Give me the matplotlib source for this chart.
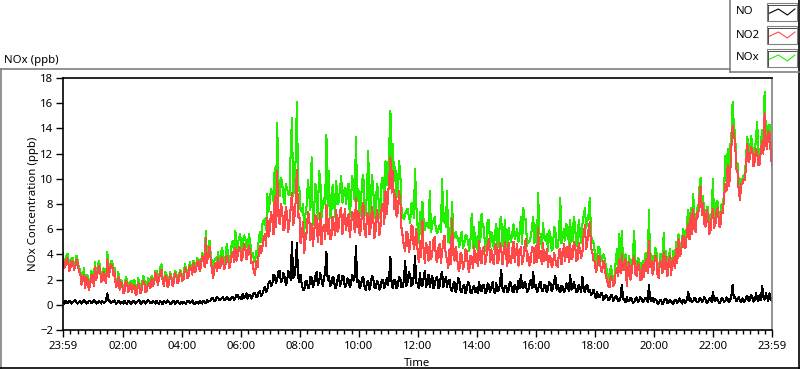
import matplotlib
matplotlib.use("Agg")
import matplotlib.pyplot as plt
from matplotlib.lines import Line2D
from matplotlib.patches import Rectangle
import numpy as np

plt.rcParams['font.family'] = ['Noto Sans', 'DejaVu Sans']

# one reading every 2.5 min, minutes after midnight (23:59 day before -> 23:59)
minutes = np.arange(-1, 1440, 2.5)

# NO2 (ppb), one row per hour
no2 = [
    3.8, 2.9, 3.1, 3.7, 3.6, 2.7, 2.9, 3.5, 3.4, 2.8, 3.0, 3.6, 3.3, 2.6, 2.5, 1.6, 1.9, 2.4, 1.3, 2.2, 2.0, 1.2, 1.5, 2.4,
    2.3, 1.5, 3.0, 2.0, 2.5, 3.1, 2.9, 1.8, 1.9, 2.6, 2.1, 1.7, 3.6, 2.2, 2.7, 3.2, 3.1, 2.3, 2.6, 1.4, 1.6, 2.2, 1.2, 1.8,
    1.6, 0.9, 1.1, 1.9, 1.8, 1.0, 1.3, 1.7, 1.0, 1.5, 1.6, 0.8, 0.9, 1.7, 1.4, 0.9, 1.2, 1.9, 1.8, 1.0, 1.1, 1.6, 1.7, 1.3,
    2.1, 1.5, 1.7, 2.5, 2.4, 1.6, 2.0, 2.6, 2.8, 1.9, 1.5, 2.3, 2.2, 1.4, 1.6, 2.4, 2.1, 1.5, 1.8, 2.5, 2.3, 1.7, 1.9, 2.6,
    2.4, 1.9, 2.0, 2.9, 2.8, 2.1, 2.3, 3.1, 2.9, 2.4, 3.3, 2.6, 2.7, 3.4, 3.5, 2.7, 3.0, 3.9, 3.7, 3.0, 5.3, 3.3, 4.0, 4.6,
    3.6, 2.8, 2.1, 3.0, 3.3, 2.7, 3.7, 2.9, 3.1, 3.8, 3.5, 2.8, 3.2, 3.9, 3.7, 2.9, 3.3, 4.0, 4.2, 3.4, 4.5, 3.5, 4.0, 4.6,
    4.4, 3.5, 3.8, 4.8, 4.6, 3.6, 4.0, 4.7, 4.3, 3.3, 3.4, 2.6, 2.4, 3.5, 3.0, 4.0, 4.7, 4.1, 4.6, 5.3, 5.6, 4.7, 6.9, 5.4,
    6.0, 7.4, 6.8, 5.6, 8.6, 6.2, 10.6, 7.1, 6.4, 8.0, 7.6, 5.9, 6.1, 7.8, 7.3, 5.8, 6.6, 7.7, 8.9, 6.3, 6.9, 8.2, 10.7, 7.0,
    7.2, 4.9, 5.5, 6.6, 4.1, 5.2, 5.8, 7.4, 7.0, 5.1, 6.4, 4.7, 5.6, 7.1, 6.8, 5.0, 5.9, 7.3, 4.8, 6.1, 6.3, 5.2, 7.9, 5.6,
    6.8, 5.2, 5.3, 7.0, 6.4, 5.5, 7.5, 5.8, 6.1, 7.4, 7.7, 5.6, 6.5, 7.6, 5.9, 6.9, 7.2, 5.4, 6.3, 7.4, 7.0, 5.8, 8.5, 6.2,
    7.4, 5.5, 6.0, 7.6, 8.1, 5.9, 5.4, 7.2, 7.3, 5.6, 6.2, 7.8, 6.9, 5.3, 5.9, 7.5, 7.0, 5.5, 6.3, 7.9, 8.0, 6.4, 9.0, 7.2,
    8.5, 10.1, 11.7, 8.9, 10.6, 7.6, 8.8, 7.0, 7.3, 9.0, 8.4, 6.1, 5.4, 4.6, 4.3, 5.8, 5.6, 4.2, 4.6, 6.3, 6.2, 4.4, 5.0, 6.0,
    4.4, 3.4, 5.1, 3.8, 6.7, 4.2, 3.3, 4.9, 4.6, 3.5, 5.0, 3.6, 4.1, 5.2, 5.4, 3.6, 3.4, 4.5, 4.8, 3.3, 4.2, 5.0, 5.5, 3.8,
    3.7, 2.9, 4.4, 3.2, 6.8, 4.1, 3.5, 4.6, 4.0, 2.9, 2.7, 4.1, 3.9, 2.8, 3.2, 4.4, 4.3, 3.0, 2.6, 3.9, 3.8, 2.9, 4.7, 3.4,
    4.0, 3.1, 5.1, 3.6, 3.3, 4.5, 4.6, 3.2, 3.9, 4.8, 5.2, 3.4, 4.4, 3.5, 3.2, 4.6, 4.8, 3.3, 3.6, 4.9, 4.5, 3.2, 4.1, 5.0,
    3.8, 3.1, 4.9, 3.5, 3.3, 4.4, 5.0, 3.4, 4.2, 4.8, 3.1, 4.2, 4.6, 3.2, 3.7, 4.7, 5.2, 3.5, 4.0, 3.1, 3.4, 4.6, 4.4, 3.3,
    4.7, 3.4, 6.1, 3.7, 4.3, 3.2, 4.9, 3.5, 3.6, 4.4, 3.0, 3.9, 3.8, 3.0, 3.2, 4.1, 3.6, 3.1, 3.0, 4.3, 4.4, 3.2, 4.0, 4.8,
    3.5, 4.5, 4.6, 3.4, 4.8, 3.6, 3.8, 5.0, 4.8, 3.5, 3.6, 4.9, 4.3, 3.7, 4.2, 5.6, 6.3, 4.4, 5.0, 6.0, 6.6, 4.5, 4.2, 3.5,
    3.4, 2.6, 2.9, 3.9, 3.8, 2.7, 2.6, 3.5, 3.2, 2.2, 2.0, 1.5, 1.4, 2.3, 2.2, 1.5, 1.7, 2.6, 2.9, 2.3, 3.6, 2.5, 4.0, 2.8,
    2.8, 3.6, 1.5, 2.7, 3.4, 2.0, 2.6, 3.5, 3.9, 2.4, 2.3, 3.3, 3.1, 2.0, 2.0, 3.2, 2.2, 3.3, 3.6, 2.5, 5.1, 3.0, 3.5, 2.4,
    2.9, 3.9, 3.8, 2.4, 2.1, 3.5, 3.3, 2.5, 4.2, 2.8, 3.8, 2.3, 3.0, 3.9, 2.4, 3.4, 3.7, 2.9, 4.4, 3.3, 5.2, 3.9, 4.1, 5.0,
    5.5, 4.5, 4.6, 6.0, 6.4, 5.2, 7.2, 5.6, 7.6, 6.0, 5.8, 7.3, 7.0, 8.6, 9.4, 7.1, 8.1, 6.4, 6.2, 7.5, 7.2, 5.6, 5.9, 7.0,
    7.6, 6.1, 6.4, 7.5, 7.7, 6.3, 6.2, 7.4, 7.3, 8.4, 9.6, 9.0, 11.1, 9.4, 10.3, 12.5, 14.2, 13.5, 12.9, 10.8, 10.5, 9.0, 8.3, 9.6,
    9.6, 10.0, 9.9, 11.2, 12.8, 11.3, 11.6, 12.5, 12.2, 11.0, 11.4, 12.4, 12.0, 11.1, 11.2, 12.3, 13.0, 12.0, 15.2, 12.7, 12.4, 13.8, 13.6, 12.0,
    11.0,
]

# NO (ppb)
no = [
    0.2, 0.1, 0.3, 0.15, 0.15, 0.3, 0.25, 0.1, 0.2, 0.3, 0.35, 0.15, 0.1, 0.25, 0.3, 0.1, 0.2, 0.35, 0.25, 0.1, 0.15, 0.3, 0.3, 0.15,
    0.2, 0.35, 0.3, 0.1, 0.15, 0.3, 0.25, 0.1, 0.3, 0.15, 0.2, 0.35, 0.9, 0.35, 0.3, 0.15, 0.2, 0.3, 0.35, 0.1, 0.15, 0.3, 0.25, 0.1,
    0.2, 0.1, 0.3, 0.15, 0.1, 0.3, 0.25, 0.05, 0.15, 0.3, 0.3, 0.1, 0.2, 0.3, 0.35, 0.1, 0.1, 0.3, 0.25, 0.1, 0.2, 0.35, 0.3, 0.15,
    0.15, 0.3, 0.25, 0.1, 0.3, 0.15, 0.1, 0.3, 0.2, 0.05, 0.3, 0.2, 0.15, 0.35, 0.25, 0.1, 0.1, 0.25, 0.3, 0.1, 0.2, 0.3, 0.15, 0.05,
    0.2, 0.1, 0.25, 0.15, 0.1, 0.3, 0.3, 0.15, 0.2, 0.35, 0.15, 0.05, 0.25, 0.15, 0.1, 0.3, 0.2, 0.1, 0.3, 0.2, 0.15, 0.35, 0.25, 0.3,
    0.35, 0.5, 0.5, 0.3, 0.4, 0.6, 0.55, 0.35, 0.45, 0.5, 0.6, 0.4, 0.4, 0.65, 0.5, 0.35, 0.45, 0.6, 0.65, 0.4, 0.55, 0.8, 0.75, 0.5,
    0.6, 0.45, 0.85, 0.55, 0.7, 0.9, 0.5, 0.75, 0.8, 0.5, 0.65, 0.95, 0.95, 0.6, 0.7, 1.0, 1.1, 0.7, 0.85, 1.2, 1.4, 1.0, 1.2, 1.7,
    1.9, 1.5, 1.6, 2.4, 2.3, 1.7, 2.0, 2.6, 2.7, 1.8, 1.9, 2.5, 2.2, 1.6, 1.8, 2.7, 2.4, 2.0, 5.0, 2.1, 2.3, 3.1, 4.9, 2.2,
    1.8, 2.4, 1.6, 1.2, 1.2, 1.8, 1.9, 1.3, 1.4, 2.2, 2.1, 1.4, 1.7, 2.3, 2.6, 1.6, 1.8, 2.5, 2.0, 1.5, 2.1, 2.6, 4.2, 2.0,
    2.3, 1.5, 1.6, 2.2, 2.1, 1.3, 1.4, 2.0, 2.4, 1.5, 1.8, 2.3, 2.2, 1.4, 1.5, 2.1, 2.0, 1.4, 1.7, 2.4, 1.9, 2.2, 4.7, 1.8,
    2.0, 1.3, 1.5, 2.1, 2.2, 1.4, 1.2, 1.8, 1.9, 1.2, 1.6, 2.3, 2.1, 1.4, 1.3, 1.9, 1.8, 1.2, 1.4, 2.0, 2.0, 1.3, 1.6, 2.1,
    1.6, 2.2, 3.8, 1.6, 1.3, 2.0, 1.9, 1.3, 1.5, 2.2, 2.1, 1.4, 1.4, 2.0, 3.5, 1.5, 1.8, 2.6, 2.4, 1.5, 1.6, 2.3, 3.9, 1.7,
    1.7, 1.3, 2.5, 1.6, 1.5, 2.2, 2.7, 1.4, 1.9, 2.4, 1.4, 2.0, 2.3, 1.3, 1.6, 2.1, 2.2, 1.3, 1.5, 2.3, 2.6, 1.4, 1.8, 2.2,
    1.4, 1.9, 2.0, 1.2, 1.1, 1.6, 1.8, 1.0, 1.3, 2.1, 1.9, 1.1, 1.0, 1.5, 1.6, 0.9, 1.2, 1.8, 1.7, 1.0, 0.9, 1.4, 1.5, 1.0,
    1.3, 0.9, 1.8, 1.2, 1.1, 1.6, 1.6, 0.9, 1.0, 1.7, 1.5, 1.0, 1.4, 1.8, 1.1, 0.9, 1.7, 1.1, 1.2, 1.6, 2.8, 1.3, 1.0, 1.5,
    1.5, 1.0, 1.2, 1.8, 1.7, 1.1, 1.0, 1.6, 1.4, 1.0, 1.9, 1.3, 2.4, 1.4, 1.3, 1.8, 1.6, 1.0, 1.1, 1.7, 2.0, 1.3, 2.6, 1.4,
    1.6, 1.0, 1.2, 1.7, 1.8, 1.1, 1.1, 1.6, 1.5, 1.0, 1.3, 1.8, 1.7, 1.1, 1.3, 1.9, 2.3, 1.2, 1.6, 1.1, 1.0, 1.5, 1.4, 1.0,
    1.2, 1.7, 1.6, 1.1, 2.4, 1.2, 1.3, 1.8, 1.5, 1.0, 1.1, 1.6, 1.4, 1.0, 2.2, 1.3, 1.0, 1.5, 1.6, 1.0, 1.2, 0.8, 0.9, 1.2,
    0.8, 0.5, 1.0, 0.6, 0.6, 0.9, 0.9, 0.4, 0.5, 0.8, 0.7, 0.35, 0.4, 0.7, 0.8, 0.3, 0.5, 0.7, 0.6, 0.3, 0.3, 0.6, 1.6, 0.5,
    0.4, 0.2, 0.6, 0.3, 0.3, 0.55, 0.5, 0.15, 0.2, 0.5, 0.6, 0.25, 0.35, 0.6, 0.5, 0.2, 0.3, 0.55, 0.45, 0.2, 1.6, 0.5, 0.3, 0.55,
    0.2, 0.45, 0.4, 0.1, 0.1, 0.35, 0.35, 0.05, 0.25, 0.45, 0.5, 0.15, 0.2, 0.4, 0.3, 0.1, 0.1, 0.35, 0.4, 0.15, 0.25, 0.5, 0.3, 0.1,
    0.4, 0.15, 0.2, 0.5, 1.0, 0.3, 0.5, 0.2, 0.3, 0.55, 0.45, 0.2, 0.2, 0.5, 0.5, 0.25, 0.3, 0.6, 0.4, 0.15, 0.25, 0.5, 0.5, 0.2,
    1.0, 0.4, 0.3, 0.55, 0.4, 0.15, 0.2, 0.5, 0.5, 0.2, 0.3, 0.6, 0.45, 0.2, 0.35, 0.7, 1.6, 0.5, 0.6, 0.3, 0.4, 0.65, 0.3, 0.2,
    0.5, 0.2, 0.3, 0.6, 0.7, 0.3, 0.4, 0.8, 0.6, 0.25, 0.35, 0.9, 0.5, 0.3, 0.8, 0.4, 1.5, 0.6, 0.4, 0.9, 0.6, 0.3, 0.9, 0.5,
    0.3,
]

# NOx (ppb)
nox = [
    4.1, 3.1, 3.4, 4.0, 4.0, 3.1, 3.2, 3.7, 3.7, 3.2, 3.3, 3.9, 3.5, 2.9, 2.8, 1.8, 2.2, 2.9, 1.6, 2.4, 2.3, 1.6, 1.8, 2.7,
    2.5, 2.0, 3.4, 2.2, 2.7, 3.5, 3.2, 2.0, 2.2, 2.9, 2.3, 2.2, 4.2, 2.7, 3.0, 3.5, 3.4, 2.7, 2.9, 1.6, 1.8, 2.6, 1.5, 2.0,
    1.9, 1.1, 1.4, 2.2, 2.0, 1.4, 1.6, 1.9, 1.2, 1.9, 2.0, 1.0, 1.1, 2.1, 1.8, 1.1, 1.3, 2.3, 2.1, 1.2, 1.3, 2.1, 2.0, 1.5,
    2.3, 1.9, 1.9, 2.7, 2.7, 1.9, 2.1, 3.0, 3.2, 2.0, 1.8, 2.6, 2.4, 1.9, 1.9, 2.6, 2.2, 1.9, 2.1, 2.7, 2.5, 2.1, 2.1, 2.8,
    2.6, 2.1, 2.3, 3.2, 2.9, 2.5, 2.6, 3.4, 3.1, 2.9, 3.5, 2.8, 3.0, 3.7, 3.6, 3.1, 3.2, 4.1, 4.0, 3.4, 5.9, 3.8, 4.3, 5.1,
    4.0, 3.4, 2.6, 3.5, 3.7, 3.4, 4.2, 3.4, 3.6, 4.5, 4.1, 3.3, 3.6, 4.8, 4.2, 3.4, 3.8, 4.8, 5.1, 4.0, 5.9, 4.5, 4.8, 5.3,
    5.6, 4.1, 4.7, 5.5, 5.3, 4.7, 4.5, 5.6, 5.1, 4.0, 4.1, 3.7, 3.4, 4.3, 3.7, 5.2, 5.8, 5.0, 6.4, 6.7, 6.8, 5.9, 8.8, 7.4,
    8.2, 9.2, 8.9, 8.2, 10.9, 8.1, 14.4, 10.0, 8.6, 10.1, 9.7, 8.6, 8.0, 9.6, 9.2, 8.8, 8.7, 12.3, 14.8, 8.6, 9.4, 11.6, 16.1, 9.4,
    9.3, 7.5, 7.4, 8.0, 5.8, 7.2, 7.9, 9.9, 8.8, 7.5, 11.7, 6.3, 7.5, 9.6, 8.9, 6.8, 10.6, 10.1, 6.9, 7.8, 8.5, 8.0, 13.5, 7.8,
    10.6, 6.9, 7.3, 9.5, 8.6, 7.0, 9.8, 8.0, 8.2, 9.2, 10.2, 8.1, 8.9, 9.3, 8.0, 9.2, 9.6, 7.0, 8.4, 10.2, 9.3, 8.2, 13.3, 8.2,
    9.2, 7.0, 8.0, 9.9, 10.3, 7.5, 7.1, 9.2, 12.2, 7.0, 8.1, 10.3, 9.3, 6.9, 7.6, 9.6, 9.1, 6.9, 8.0, 10.1, 10.1, 7.9, 11.4, 9.5,
    10.4, 12.5, 15.4, 10.7, 12.8, 9.8, 10.9, 8.5, 9.0, 11.4, 10.5, 7.7, 7.0, 6.8, 7.2, 7.5, 7.6, 7.0, 6.5, 8.0, 8.1, 6.9, 10.8, 7.9,
    6.3, 4.9, 7.4, 5.6, 8.2, 6.6, 5.9, 6.5, 6.5, 6.1, 9.0, 5.8, 6.4, 6.7, 7.0, 5.9, 5.7, 6.0, 6.3, 5.8, 10.0, 6.6, 7.3, 6.2,
    9.0, 5.0, 6.1, 4.6, 8.2, 5.9, 5.3, 5.8, 5.4, 5.2, 4.6, 5.4, 5.8, 4.5, 4.8, 5.5, 5.5, 5.0, 4.3, 5.1, 7.2, 4.5, 6.2, 4.6,
    5.4, 4.1, 6.6, 5.0, 7.2, 6.3, 6.1, 4.3, 5.0, 6.7, 6.7, 4.6, 5.8, 5.5, 4.4, 5.7, 6.4, 4.6, 4.9, 6.7, 7.0, 4.7, 5.2, 6.7,
    5.3, 4.3, 6.1, 5.4, 5.0, 5.7, 6.4, 5.2, 5.6, 6.0, 5.0, 5.7, 7.0, 4.8, 7.7, 6.7, 6.8, 4.7, 5.1, 5.0, 5.4, 6.1, 7.0, 4.9,
    6.3, 4.6, 8.9, 5.6, 5.6, 4.5, 6.5, 5.3, 5.1, 5.6, 4.3, 5.9, 5.5, 4.3, 4.5, 6.2, 5.9, 4.5, 4.6, 5.6, 8.5, 4.9, 5.4, 6.0,
    5.1, 6.4, 6.2, 4.7, 6.7, 5.0, 5.1, 7.0, 6.3, 4.7, 4.7, 6.7, 5.7, 4.9, 6.4, 7.1, 7.7, 6.1, 6.6, 7.2, 8.5, 5.5, 5.1, 4.9,
    4.2, 3.2, 3.9, 4.6, 4.4, 3.7, 3.5, 4.0, 3.7, 3.1, 2.7, 2.0, 1.8, 3.1, 2.6, 1.9, 2.2, 3.4, 4.4, 2.7, 5.6, 3.2, 5.9, 3.4,
    3.4, 4.0, 2.1, 3.1, 3.9, 2.7, 3.1, 3.8, 5.9, 3.1, 2.9, 3.7, 3.6, 2.8, 2.7, 3.5, 2.6, 4.0, 4.1, 2.8, 7.5, 3.6, 4.0, 3.1,
    3.2, 4.5, 4.4, 2.6, 2.4, 4.0, 4.0, 2.7, 5.7, 3.4, 4.3, 2.6, 3.4, 4.4, 2.8, 3.6, 4.3, 3.4, 5.0, 3.6, 5.6, 4.6, 4.6, 5.3,
    6.0, 4.8, 5.1, 6.7, 7.5, 5.7, 7.7, 6.0, 8.8, 6.8, 6.3, 7.7, 7.4, 9.3, 10.1, 7.5, 8.6, 7.2, 6.7, 7.8, 7.8, 6.3, 6.5, 7.4,
    10.0, 6.6, 7.0, 8.2, 8.2, 6.6, 6.7, 8.0, 7.8, 8.8, 11.8, 9.8, 12.4, 9.8, 12.5, 13.4, 16.1, 14.2, 13.6, 11.3, 11.2, 9.8, 8.8, 10.0,
    9.9, 10.3, 10.3, 11.9, 13.3, 11.7, 12.1, 13.4, 12.7, 11.4, 11.8, 13.4, 14.5, 11.5, 11.7, 12.8, 13.9, 12.7, 16.9, 13.7, 13.0, 14.2, 14.3, 12.6,
    11.6,
]

tick_pos = [-1, 120, 240, 360, 480, 600, 720, 840, 960, 1080, 1200, 1320, 1439]
tick_lab = ["23:59", "02:00", "04:00", "06:00", "08:00", "10:00", "12:00",
            "14:00", "16:00", "18:00", "20:00", "22:00", "23:59"]
y_ticks = list(range(-2, 19, 2))

W, H = 800, 369
fig = plt.figure(figsize=(W / 100, H / 100), dpi=100)


def fx(px):
    return px / W


def fy(py):
    return 1 - py / H


# plot area in pixels: x 63..772, y 78..330
ax = fig.add_axes([fx(63), fy(330), (772 - 63) / W, (330 - 78) / H])
# LabVIEW draws hard 1px lines, so no antialiasing
ax.plot(minutes, nox, color='#22ee00', lw=0.75, antialiased=False)
ax.plot(minutes, no2, color='#ff4848', lw=0.75, antialiased=False)
ax.plot(minutes, no, color='black', lw=0.75, antialiased=False)

ax.set_xlim(-1, 1439)
ax.set_ylim(-2, 18)
ax.set_yticks(y_ticks)
ax.set_xticks(tick_pos)
ax.set_xticklabels(tick_lab)
minor = []
for a, b in zip(tick_pos[:-1], tick_pos[1:]):
    minor += [m for m in range(a + 15, b, 15) if b - m > 3]
ax.set_xticks(minor, minor=True)
ax.tick_params(axis='both', which='major', length=5, width=1, labelsize=8.2, pad=2, color='black')
ax.tick_params(axis='x', which='minor', length=3, width=1)
ax.tick_params(axis='x', which='major', pad=3)
for s in ['left', 'bottom', 'top']:
    ax.spines[s].set_color('black')
    ax.spines[s].set_linewidth(1.2)
ax.spines['right'].set_color('#808080')
ax.spines['right'].set_linewidth(1.2)
ax.set_xlabel("Time", fontsize=8.2, labelpad=4)
ax.set_ylabel("NOx Concentration (ppb)", fontsize=8.2, labelpad=0.5)

fig.text(fx(4), fy(60), "NOx (ppb)", fontsize=8.2, va='center', ha='left')

# outer frame
fig.add_artist(Line2D([fx(0), fx(730)], [fy(69), fy(69)], color='#808080', lw=1.2))
fig.add_artist(Line2D([fx(1), fx(1)], [fy(69), fy(368)], color='#808080', lw=1.2))
fig.add_artist(Line2D([fx(0), fx(800)], [fy(368), fy(368)], color='black', lw=1.2))
fig.add_artist(Line2D([fx(799), fx(799)], [fy(0), fy(368)], color='black', lw=1.2))

# legend panel
fig.add_artist(Line2D([fx(730), fx(730)], [fy(0), fy(72)], color='#808080', lw=1.2))
fig.add_artist(Line2D([fx(730), fx(799)], [fy(72), fy(72)], color='#808080', lw=1.2))
legend_names = ["NO", "NO2", "NOx"]
legend_colors = ['black', '#ff4848', '#22ee00']
legend_y = [12, 35, 58]
zig_x = [0.08, 0.38, 0.68, 0.93]
zig_y = [-0.2, 0.5, -0.5, 0.5]
for name, col, cy in zip(legend_names, legend_colors, legend_y):
    fig.text(fx(736), fy(cy), name, fontsize=8.2, va='center', ha='left')
    x0, x1 = 767, 797
    fig.add_artist(Rectangle((fx(x0), fy(cy + 8.5)), (x1 - x0) / W, 17 / H,
                             fill=False, edgecolor='#808080', lw=0.8))
    fig.add_artist(Line2D([fx(x0 + 1), fx(x1 - 1)], [fy(cy - 7.5), fy(cy - 7.5)], color='#303030', lw=0.6))
    fig.add_artist(Line2D([fx(x0 + 1), fx(x0 + 1)], [fy(cy - 7.5), fy(cy + 7.5)], color='#303030', lw=0.6))
    fig.add_artist(Line2D([fx(x0 + 30 * z) for z in zig_x],
                          [fy(cy - 6 * z) for z in zig_y], color=col, lw=0.8))

fig.savefig('out.png', dpi=100)
